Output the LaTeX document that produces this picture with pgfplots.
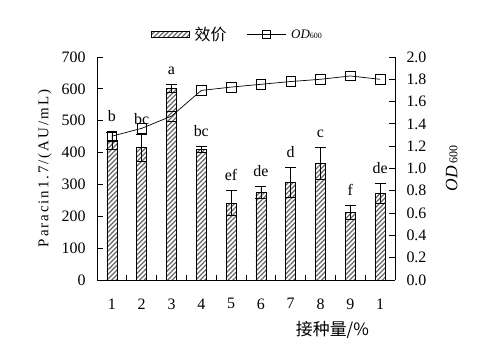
\documentclass[border=0pt]{standalone}
\usepackage{fontspec}
\setmainfont{Liberation Serif}
\newfontfamily\cjk{Noto Sans CJK SC}
\usepackage{pgfplots}
\usepackage{pgfplotstable}
\pgfplotsset{compat=1.18}
\usetikzlibrary{patterns.meta}

\pgfplotstableread{
x y err top lab
1 437 28 465 b
2 416 42 458 bc
3 602 13 615 a
4 410 8 418 bc
5 241 39 280 ef
6 275 19 294 de
7 307 47 354 d
8 366 50 416 c
9 212 22 234 f
10 272 30 302 de
}\effdata

\pgfplotstableread{
x od
1 1.29
2 1.36
3 1.47
4 1.70
5 1.73
6 1.755
7 1.78
8 1.80
9 1.83
10 1.80
}\oddata

\begin{document}
\begin{tikzpicture}
\begin{axis}[
  at={(97bp,79bp)}, anchor=south west,
  scale only axis, width=298bp, height=223bp,
  xmin=0.5, xmax=10.5, ymin=0, ymax=700,
  axis x line*=bottom, axis y line*=left,
  axis line style={line width=0.8pt},
  tick align=inside,
  tick style={black, line width=0.8pt},
  xtick={1,...,10}, xticklabels={1,2,3,4,5,6,7,8,9,1},
  major x tick style={draw=none},
  minor xtick={1.5,2.5,...,9.5},
  minor tick length=5bp, major tick length=6bp,
  ytick={0,100,...,700},
  /pgf/number format/assume math mode=true,
  ticklabel style={font=\fontsize{16}{18}\selectfont},
  xticklabel style={yshift=-15bp},
  yticklabel style={xshift=-8bp},
  ylabel={\addfontfeature{LetterSpace=13}Paracin1.7/(AU/mL)},
  ylabel style={at={(axis description cs:-0.175,0.5)}, anchor=center, rotate=0, font=\fontsize{15}{17}\selectfont},
  xlabel={\cjk 接种量/\%},
  xlabel style={at={(axis description cs:0.79,-0.225)}, anchor=center, font=\fontsize{17}{19}\selectfont},
]
\addplot[ybar, bar width=10bp, draw=black, line width=0.7pt,
  pattern={Lines[angle=45,distance=3.3bp,line width=1.2bp]}, pattern color=gray!80!black,
  error bars/.cd, y dir=both, y explicit,
  error bar style={black, line width=0.7pt},
  error mark options={black, rotate=90, mark size=5.5bp, line width=0.7pt}]
  table[x=x, y=y, y error=err] {\effdata};
\addplot[draw=none, mark=none, nodes near coords, point meta=explicit symbolic,
  every node near coord/.append style={anchor=base, yshift=10bp, inner sep=0pt, font=\fontsize{16}{18}\selectfont, black}]
  table[x=x, y=top, meta=lab] {\effdata};
\end{axis}
\begin{axis}[
  at={(97bp,79bp)}, anchor=south west,
  scale only axis, width=298bp, height=223bp,
  xmin=0.5, xmax=10.5, ymin=0, ymax=2,
  axis y line*=right, axis x line=none,
  axis line style={line width=0.8pt},
  tick align=inside,
  tick style={black, line width=0.8pt},
  major tick length=6bp,
  ytick={0,0.2,0.4,0.6,0.8,1.0,1.2,1.4,1.6,1.8,2.0},
  /pgf/number format/assume math mode=true,
  yticklabel style={/pgf/number format/.cd, fixed, fixed zerofill, precision=1, /tikz/.cd, xshift=8bp, font=\fontsize{16}{18}\selectfont},
  ylabel={\textit{OD}\,{\fontsize{12}{14}\selectfont 600}},
  ylabel style={at={(axis description cs:1.19,0.5)}, anchor=center, font=\fontsize{17.5}{19}\selectfont},
  legend columns=2,
  legend style={at={(axis description cs:0.471,1.10)}, anchor=center, draw=none, fill=none,
    font=\fontsize{16}{18}\selectfont,
    nodes={inner sep=2bp},
    /tikz/every odd column/.append style={column sep=3bp},
    /tikz/every even column/.append style={column sep=18bp}},
]
\addlegendimage{legend image code/.code={\draw[draw=black, line width=0.7pt, pattern={Lines[angle=45,distance=3.3bp,line width=1.2bp]}, pattern color=gray!80!black] (0bp,-3bp) rectangle (38bp,3bp);}}
\addlegendentry{\cjk 效价}
\addplot[black, line width=0.7pt, mark=square, mark size=4.8bp, mark options={line width=0.7pt},
  legend image code/.code={\draw[black, line width=0.7pt] (0bp,0bp) -- (39bp,0bp); \draw[black, line width=0.7pt] (15.5bp,-4bp) rectangle (23.5bp,4bp);}]
  table[x=x, y=od] {\oddata};
\addlegendentry{\fontsize{13}{15}\selectfont\textit{OD}{\fontsize{8}{10}\selectfont 600}}
\end{axis}
\pgfresetboundingbox
\path (0,0) rectangle (498bp,359bp);
\end{tikzpicture}
\end{document}
